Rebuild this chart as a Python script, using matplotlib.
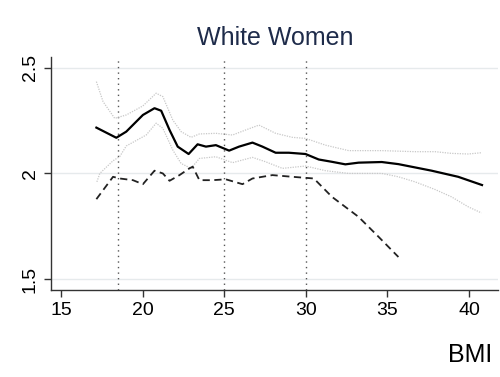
import matplotlib
matplotlib.use('Agg')
import matplotlib.pyplot as plt

plt.rcParams['font.family'] = ['Liberation Sans', 'DejaVu Sans']

# smoothed estimate (solid)
est_x = [17.17, 18.39, 19.0, 20.02, 20.73, 21.14, 21.65, 22.15, 22.82, 23.37, 23.88, 24.49,
         25.30, 25.91, 26.73, 27.34, 28.15, 28.96, 29.98, 30.79, 31.6, 32.42, 33.23, 34.65,
         35.67, 37.7, 39.33, 40.79]
est_y = [2.217, 2.169, 2.198, 2.277, 2.309, 2.297, 2.206, 2.127, 2.092, 2.138, 2.127, 2.134,
         2.108, 2.127, 2.146, 2.127, 2.098, 2.098, 2.092, 2.066, 2.055, 2.043, 2.051, 2.054,
         2.044, 2.013, 1.984, 1.945]

# upper confidence band
up_x = [17.17, 17.58, 18.29, 19.0, 20.02, 20.83, 21.24, 21.85, 22.36, 22.97, 23.48, 24.49,
        25.51, 26.32, 27.13, 28.15, 29.17, 29.98, 31.2, 32.62, 34.65, 36.69, 37.91, 38.92,
        39.94, 40.75]
up_y = [2.435, 2.34, 2.261, 2.277, 2.32, 2.38, 2.364, 2.253, 2.198, 2.171, 2.187, 2.19,
        2.182, 2.206, 2.229, 2.19, 2.171, 2.166, 2.134, 2.108, 2.108, 2.103, 2.103, 2.095,
        2.092, 2.098]

# lower confidence band
lo_x = [17.2, 17.38, 18.19, 18.6, 19.0, 20.22, 20.83, 21.24, 21.85, 22.36, 22.97, 23.48,
        24.49, 25.51, 26.73, 27.54, 28.56, 29.98, 31.2, 32.62, 34.65, 35.67, 36.69, 37.91,
        38.92, 39.94, 40.75]
lo_y = [1.96, 2.0, 2.06, 2.08, 2.13, 2.182, 2.238, 2.214, 2.111, 2.047, 2.024, 2.071,
        2.079, 2.051, 2.076, 2.055, 2.024, 2.035, 2.013, 2.0, 2.0, 1.984, 1.96, 1.924,
        1.889, 1.842, 1.813]

# second series (dashed)
dash_x = [17.17, 18.19, 18.6, 19.41, 20.02, 20.73, 21.24, 21.65, 22.26, 22.87, 23.07, 23.48,
          24.29, 25.10, 26.12, 26.73, 27.95, 29.17, 30.49, 31.6, 33.23, 34.45, 35.67]
dash_y = [1.878, 1.984, 1.976, 1.968, 1.949, 2.013, 2.0, 1.965, 1.992, 2.024, 2.032, 1.968,
          1.968, 1.972, 1.949, 1.976, 1.992, 1.984, 1.976, 1.889, 1.794, 1.70, 1.604]

cutoffs = [18.5, 25, 30]
xticks = [15, 20, 25, 30, 35, 40]
yticks = [1.5, 2, 2.5]

fig = plt.figure(figsize=(5, 3.77), dpi=100)
ax = fig.add_axes([0.102, 0.231, 0.894, 0.618])

for yv in yticks:
    ax.axhline(yv, color='#e6eaec', lw=1.0, zorder=0)
for c in cutoffs:
    ax.axvline(c, color='#555555', lw=1.0, ls=(0, (1, 3)), zorder=1)

ax.plot(up_x, up_y, color='#c8c8c8', lw=0.9, ls=(0, (1, 1)), zorder=2)
ax.plot(lo_x, lo_y, color='#c8c8c8', lw=0.9, ls=(0, (1, 1)), zorder=2)
ax.plot(est_x, est_y, color='black', lw=1.6, zorder=3)
ax.plot(dash_x, dash_y, color='#222222', lw=1.3, ls=(0, (4, 2.5)), zorder=3)

ax.set_xlim(14.39, 41.77)
ax.set_ylim(1.448, 2.552)
ax.set_xticks(xticks)
ax.set_xticklabels([str(t) for t in xticks])
ax.set_yticks(yticks)
ax.set_yticklabels(['1.5', '2', '2.5'], rotation=90, va='center')
ax.tick_params(labelsize=14, length=5, width=1, color='#333333', pad=4)

for s in ['top', 'right']:
    ax.spines[s].set_visible(False)
for s in ['left', 'bottom']:
    ax.spines[s].set_color('#333333')
    ax.spines[s].set_linewidth(1.0)

fig.text(0.55, 0.9, 'White Women', ha='center', va='center', fontsize=18, color='#1e2b4a')
fig.text(0.94, 0.058, 'BMI', ha='center', va='center', fontsize=18, color='black')

fig.savefig('out.png', dpi=100)
